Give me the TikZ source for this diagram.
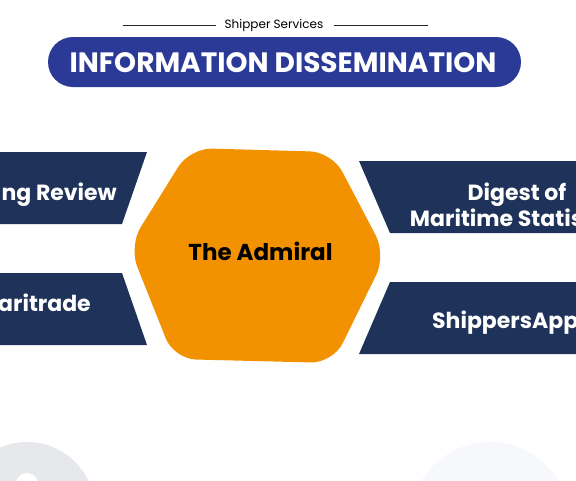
\documentclass[tikz,border=0pt]{standalone}
\usepackage{fontspec}
\setmainfont{Poppins}
\usetikzlibrary{positioning}
\definecolor{PillBlue}{HTML}{2B3A96}
\definecolor{BannerNavy}{HTML}{1F3259}
\definecolor{AdmiralOrange}{HTML}{F39200}
\definecolor{CircleGray}{HTML}{E7E8EC}
\definecolor{CirclePale}{HTML}{F7F8FC}

\begin{document}
\begin{tikzpicture}[x=1pt,y=-1pt,
  banner/.style={fill=BannerNavy},
  bannertext/.style={text=white,font=\fontsize{22}{26}\selectfont\bfseries,align=center,inner sep=0pt},
  hexlabel/.style={text=black,font=\fontsize{23}{26}\selectfont\bfseries,inner sep=0pt},
  pill/.style={fill=PillBlue,rounded corners=25pt},
  rule/.style={draw=black!85,line width=0.9pt}
]
\useasboundingbox (0,0) rectangle (576,480);
\clip (0,0) rectangle (576,480);

%% Background circles
\fill[CircleGray] (27,510) circle (68);
\fill[white] (27,484) circle (11);
\fill[CirclePale] (490,522) circle (80);

%% Header
\node[font=\fontsize{12}{14}\selectfont,inner sep=0pt] (sub) at (274,25) {Shipper Services};
\coordinate (ruleL) at (123,25);
\coordinate (ruleR) at (428,25);
\draw[rule] (ruleL) -- ([xshift=-8pt]sub.west |- ruleL);
\draw[rule] ([xshift=10pt]sub.east |- ruleR) -- (ruleR);
\fill[pill] (48,37) rectangle (521,87);
\node[text=white,font=\fontsize{28}{30}\selectfont\bfseries,inner sep=0pt] (title) at (283,63) {INFORMATION DISSEMINATION};

%% Banners
\fill[banner] (0,152) -- (147,152) -- (122,224) -- (0,224) -- cycle;
\fill[banner] (0,273) -- (122,273) -- (147,345) -- (0,345) -- cycle;
\fill[banner] (359,161) -- (576,161) -- (576,233) -- (390,233) -- cycle;
\fill[banner] (390,282) -- (576,282) -- (576,354) -- (359,354) -- cycle;

\node[bannertext,anchor=base east] (review) at (117,200) {ng Review};
\node[bannertext,anchor=base east] (maritrade) at (91,311) {aritrade};
\node[bannertext] (digest) at (517,205) {Digest of\\Maritime Statistics};
\node[bannertext,anchor=base west] (app) at (432,328) {ShippersApp};

%% Centre hexagon
\fill[AdmiralOrange,rounded corners=22pt]
  (190,148) -- (332,152) -- (386,255) -- (333,363) -- (174,359) -- (129,246) -- cycle;
\node[hexlabel,anchor=base] (admiral) at (260.5,260) {The Admiral};

\end{tikzpicture}
\end{document}
